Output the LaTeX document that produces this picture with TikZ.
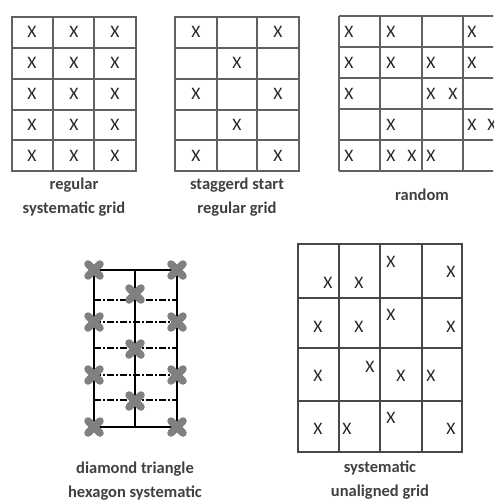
\documentclass[tikz,border=0pt]{standalone}
\usepackage{fontspec}
\setmainfont{Carlito}
\begin{document}
\begin{tikzpicture}[x=1pt,y=-1pt,
  gridline/.style={draw=black!62, line width=1.4pt},
  gridtwo/.style={draw=black!72, line width=1.4pt},
  xmark/.style={text=black!85, font=\fontsize{17.5}{17}\selectfont, inner sep=0pt},
  lbl/.style={text=black!75, font=\bfseries\fontsize{16.5}{24}\selectfont, align=center, inner sep=0pt},
  cross/.style={draw=black!50, line width=7.5pt, line cap=round},
  frame/.style={draw=black, line width=2.6pt},
  midline/.style={draw=black, line width=1.3pt},
  dashline/.style={draw=black, line width=1.4pt, dash pattern=on 7pt off 2pt on 2pt off 2pt},
]
\useasboundingbox (0,0) rectangle (493,501);
\fill[white] (0,0) rectangle (493,501);

% ---------- regular systematic grid ----------
\draw[gridline] (12,17) rectangle (136,171);
\foreach \c in {53,94} \draw[gridline] (\c,17) -- (\c,171);
\foreach \r in {48,79,110,140} \draw[gridline] (12,\r) -- (136,\r);
\foreach \cx [count=\i] in {32,74,115}
  \foreach \ry [count=\j] in {32,63,94,125,156}
    \node[xmark] (a\i\j) at (\cx,\ry) {X};
\node[lbl] (la) at (74,197) {regular\\systematic grid};

% ---------- staggered start ----------
\draw[gridline] (175,17) rectangle (299,171);
\foreach \c in {217,257} \draw[gridline] (\c,17) -- (\c,171);
\foreach \r in {48,79,110,140} \draw[gridline] (175,\r) -- (299,\r);
\foreach \p/\q [count=\k] in {196/32,278/32,237/63,196/94,278/94,237/125,196/156,278/156}
  \node[xmark] (b\k) at (\p,\q) {X};
\node[lbl] (lb) at (237,197) {staggerd start\\regular grid};

% ---------- random ----------
\begin{scope}
\clip (0,0) rectangle (493,501);
\foreach \r in {16,47,78,109,140,171} \draw[gridline] (339,\r) -- (510,\r);
\foreach \c in {339,380,422,463,504} \draw[gridline] (\c,16) -- (\c,171);
\foreach \p/\q [count=\k] in {349/32,391/32,472/32,
   349/63,391/63,431/63,472/63,
   349/94,431/94,453/94,
   391/125,472/125,492/125,
   349/156,391/156,412/156,431/156}
  \node[xmark] (c\k) at (\p,\q) {X};
\end{scope}
\node[lbl] (lc) at (422,195) {random};

% ---------- diamond triangle hexagon ----------
\foreach \y in {300,322,348,375,400} \draw[dashline] (94,\y) -- (177,\y);
\draw[midline] (135,270) -- (135,427);
\draw[frame] (94,270) rectangle (177,427);
\foreach \p/\q in {94/270,177/270,94/322,177/322,94/375,177/375,94/427,177/427,135/294,135/349,135/401}
  \draw[cross] (\p-6,\q-6) -- (\p+6,\q+6) (\p-6,\q+6) -- (\p+6,\q-6);
\node[lbl] (ld) at (135,481) {diamond triangle\\hexagon systematic};

% ---------- systematic unaligned ----------
\draw[gridtwo] (298,244) rectangle (462,452);
\foreach \c in {339,380,422} \draw[gridtwo] (\c,244) -- (\c,452);
\foreach \r in {298,348,401} \draw[gridtwo] (298,\r) -- (462,\r);
\foreach \p/\q [count=\k] in {328/283,359/283,391/262,451/272,
   318/327,359/327,391/315,451/327,
   318/376,370/367,401/376,431/376,
   318/429,347/429,391/418,451/429}
  \node[xmark] (e\k) at (\p,\q) {X};
\node[lbl] (le) at (380,480) {systematic\\unaligned grid};
\end{tikzpicture}
\end{document}
